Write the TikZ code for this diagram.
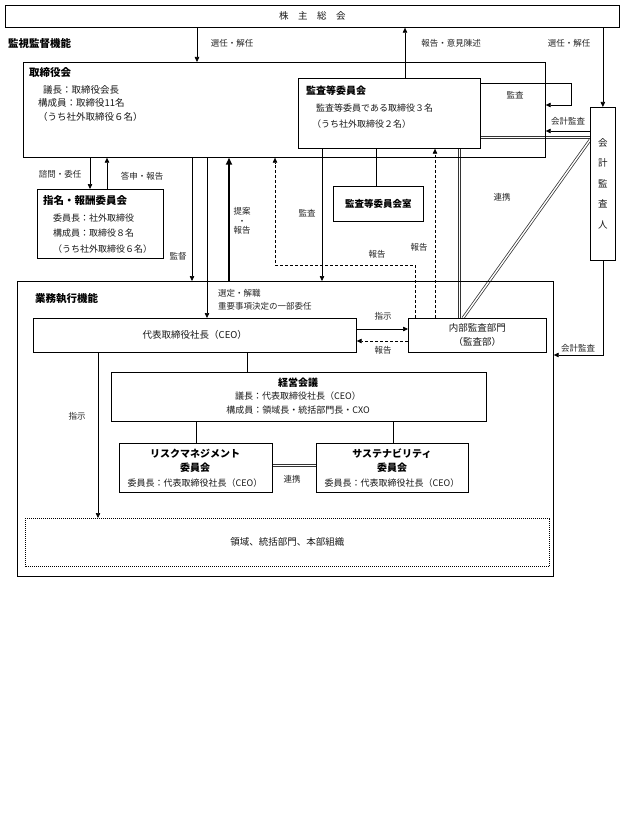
\documentclass[tikz,border=0pt]{standalone}
\usepackage{fontspec}
\setmainfont{Noto Sans CJK JP}
\usetikzlibrary{arrows.meta,calc}
\pgfdeclarelayer{bg}
\pgfsetlayers{bg,main}
\newcommand\fsz[1]{\fontsize{#1}{#1}\selectfont}
\begin{document}
\begin{tikzpicture}[x=1pt,y=-1pt,
  box/.style={draw, line width=0.7pt, inner sep=0, anchor=north west},
  t/.style={inner sep=0, font=\fsz{9}, text=black!90},
  tw/.style={t, anchor=west},
  lab/.style={inner sep=0, font=\fsz{8.5}, text=black!85},
  hd/.style={inner sep=0, font=\bfseries\fsz{10.5}},
  hdw/.style={hd, anchor=west},
  ln/.style={line width=0.6pt},
  arr/.style={ln, -{Triangle[length=5pt,width=4.5pt]}},
  dsh/.style={dash pattern=on 3pt off 2pt},
  dbl/.style={draw=black!80, double=white, double distance=1.4pt, line width=0.75pt},
  thk/.style={line width=1.8pt, -{Triangle[length=7pt,width=6pt]}}]
\useasboundingbox (0,0) rectangle (624,832);
\begin{pgfonlayer}{bg}
\fill[white] (0,0) rectangle (624,832);
\end{pgfonlayer}

% boxes
\node[box,minimum width=614pt,minimum height=22pt] (kabu) at (5,5) {};
\node[t,font=\fsz{9.5}] (kabut) at (kabu.center) {株　主　総　会};
\node[box,minimum width=522pt,minimum height=95pt] (tori) at (23,62) {};
\node[box,minimum width=182pt,minimum height=70pt] (kansa) at (298,78) {};
\node[box,minimum width=25pt,minimum height=153pt] (kaikei) at (590,107) {};
\node[box,minimum width=126pt,minimum height=69pt] (shimei) at (37,189) {};
\node[box,minimum width=90pt,minimum height=35pt,font=\bfseries\fsz{9.5}] (kshitsu) at (333,186) {監査等委員会室};
\node[box,minimum width=536pt,minimum height=295pt] (gyomu) at (17,281) {};
\node[box,minimum width=323pt,minimum height=34pt,font=\fsz{9.5},text=black!90] (ceo) at (33,318) {代表取締役社長（CEO）};
\node[box,minimum width=138pt,minimum height=34pt] (naibu) at (408,318) {};
\node[box,minimum width=375pt,minimum height=49pt] (keiei) at (111,372) {};
\node[box,minimum width=153pt,minimum height=49pt] (risk) at (119,443) {};
\node[box,minimum width=152pt,minimum height=49pt] (sust) at (316,443) {};
\node[box,draw=none,minimum width=524pt,minimum height=48pt] (dotbox) at (25,518) {};
\draw[line width=1pt,dash pattern=on 1pt off 1pt] (dotbox.north west) rectangle (dotbox.south east);

% texts
\node[hdw] (kanshi) at (8,43) {監視監督機能};
\node[hdw] (torih) at (29,73) {取締役会};
\node[tw,font=\fsz{9.5}] (tori1) at (43,90) {議長：取締役会長};
\node[tw,font=\fsz{9.5}] (tori2) at (38,103) {構成員：取締役11名};
\node[tw,font=\fsz{9.5}] (tori3) at (38,117) {（うち社外取締役６名）};
\node[hdw,font=\bfseries\fsz{10}] (kansah) at (306,91) {監査等委員会};
\node[tw] (kansa1) at (316,108) {監査等委員である取締役３名};
\node[tw] (kansa2) at (312,124) {（うち社外取締役２名）};
\node[hdw] (shimeih) at (43,200) {指名・報酬委員会};
\node[tw] (shimei1) at (53,218) {委員長：社外取締役};
\node[tw] (shimei2) at (53,233) {構成員：取締役８名};
\node[tw] (shimei3) at (53,249) {（うち社外取締役６名）};
\node[t,font=\fontsize{9.5}{20.5}\selectfont,align=center] (kaikeit) at (kaikei.center) {会\\計\\監\\査\\人};
\node[hdw] (gyomuh) at (35,299) {業務執行機能};
\node[t,font=\fontsize{9.5}{14}\selectfont,align=center] (naibut) at (naibu.center) {内部監査部門\\（監査部）};
\node[hd,font=\bfseries\fsz{10}] (keieih) at (298,383) {経営会議};
\node[t] (keiei1) at (298,396) {議長：代表取締役社長（CEO）};
\node[t] (keiei2) at (298,410) {構成員：領域長・統括部門長・CXO};
\node[hd,font=\bfseries\fsz{10}] (riskh1) at (195,454) {リスクマネジメント};
\node[hd,font=\bfseries\fsz{10}] (riskh2) at (195,468) {委員会};
\node[t] (risk1) at (195,483) {委員長：代表取締役社長（CEO）};
\node[hd,font=\bfseries\fsz{10}] (susth1) at (392,454) {サステナビリティ};
\node[hd,font=\bfseries\fsz{10}] (susth2) at (392,468) {委員会};
\node[t] (sust1) at (392,483) {委員長：代表取締役社長（CEO）};
\node[t,font=\fsz{9.5}] (dott) at (dotbox.center) {領域、統括部門、本部組織};

% labels
\node[lab] (l1) at (232,43) {選任・解任};
\node[lab] (l2) at (451,43) {報告・意見陳述};
\node[lab] (l3) at (569,43) {選任・解任};
\node[lab] (l4) at (515,95) {監査};
\node[lab] (l5) at (568,121) {会計監査};
\node[lab] (l6) at (502,197) {連携};
\node[lab] (l7) at (307,213) {監査};
\node[lab] (l8) at (377,254) {報告};
\node[lab] (l9) at (419,247) {報告};
\node[lab] (l10) at (60,174) {諮問・委任};
\node[lab] (l11) at (142,176) {答申・報告};
\node[lab] (l12) at (178,256) {監督};
\node[lab,font=\fontsize{8.5}{9.5}\selectfont,align=center] (l13) at (242,221) {提案\\・\\報告};
\node[lab,anchor=west] (l14) at (218,293) {選定・解職};
\node[lab,anchor=west] (l15) at (218,306) {重要事項決定の一部委任};
\node[lab] (l16) at (383,316) {指示};
\node[lab] (l17) at (383,350) {報告};
\node[lab] (l18) at (578,348) {会計監査};
\node[lab] (l19) at (77,416) {指示};
\node[lab] (l20) at (292,479) {連携};

% connectors
\draw[arr] (197,0 |- kabu.south) -- (197,0 |- tori.north);
\draw[arr] (405,0 |- kansa.north) -- (405,0 |- kabu.south);
\draw[arr] (kaikei.north |- kabu.south) -- (kaikei.north);
\draw[arr] (kansa.east |- 0,83) -| (571,105) -- (tori.east |- 0,105);
\draw[arr] (kaikei.west |- 0,131) -- (tori.east |- 0,131);
\begin{pgfonlayer}{bg}
\draw[dbl] (kansa.east |- 0,137.5) -- (kaikei.west |- 0,137.5);
\draw[dbl] (kaikei.west |- 0,140) -- (463,0 |- naibu.north);
\draw[dbl] (459.5,0 |- kansa.south) -- (459.5,0 |- naibu.north);
\draw[dbl] (risk.east |- 0,465.5) -- (sust.west |- 0,465.5);
\end{pgfonlayer}
\draw[ln] (376,0 |- kansa.south) -- (376,0 |- kshitsu.north);
\draw[arr] (322,0 |- kansa.south) -- (322,0 |- gyomu.north);
\draw[arr,dsh] (435,0 |- naibu.north) -- (435,0 |- kansa.south);
\draw[arr,dsh] (415,0 |- naibu.north) |- (275,265) -- (275,0 |- tori.south);
\draw[arr] (90,0 |- tori.south) -- (90,0 |- shimei.north);
\draw[arr] (107,0 |- shimei.north) -- (107,0 |- tori.south);
\draw[arr] (192,0 |- tori.south) -- (192,0 |- gyomu.north);
\draw[arr] (207,0 |- tori.south) -- (207,0 |- ceo.north);
\draw[thk] (229,0 |- gyomu.north) -- (229,0 |- tori.south);
\draw[arr] (ceo.east |- 0,329) -- (naibu.west |- 0,329);
\draw[arr,dsh] (naibu.west |- 0,341) -- (ceo.east |- 0,341);
\draw[arr] (kaikei.south) |- (gyomu.east |- 0,355);
\draw[ln] (247,0 |- ceo.south) -- (247,0 |- keiei.north);
\draw[ln] (196,0 |- keiei.south) -- (196,0 |- risk.north);
\draw[ln] (393,0 |- keiei.south) -- (393,0 |- sust.north);
\draw[arr] (98,0 |- ceo.south) -- (98,0 |- dotbox.north);
\end{tikzpicture}
\end{document}
